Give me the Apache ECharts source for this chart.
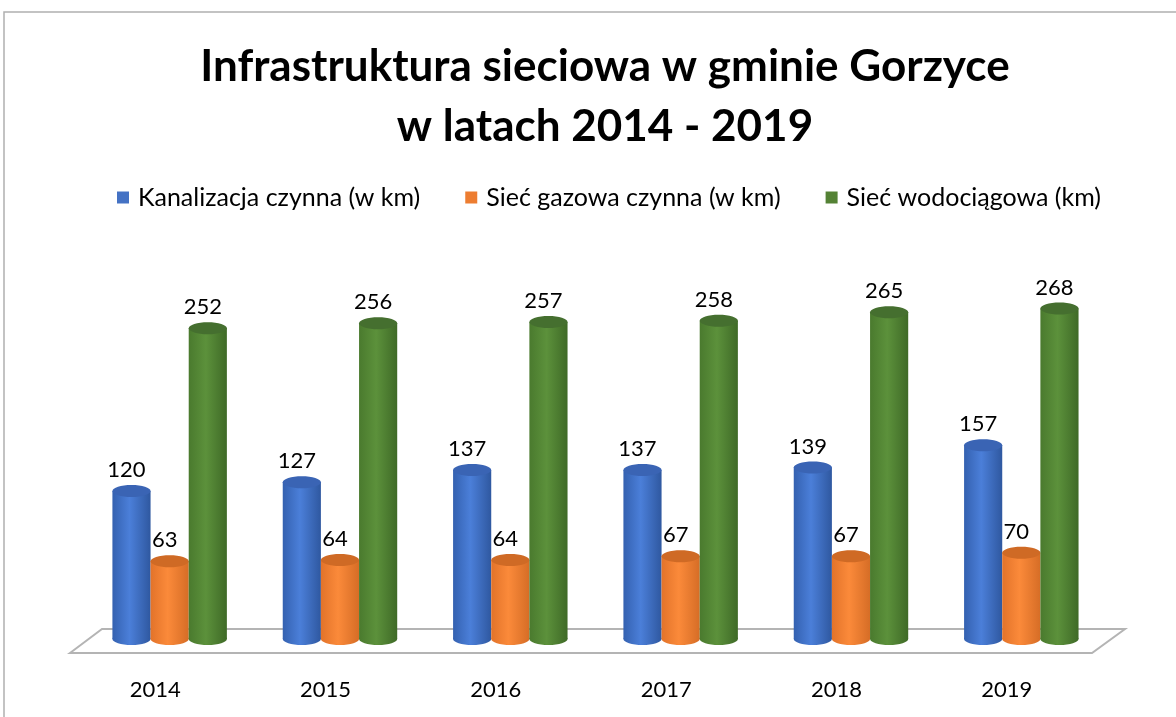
<!DOCTYPE html>
<html lang="pl">
<head>
  <meta charset="utf-8"/>
  <title>Infrastruktura sieciowa</title>
  <script src="https://cdn.jsdelivr.net/npm/echarts@6/dist/echarts.min.js"></script>
  <style>
    html, body { margin: 0; padding: 0; background: #fff; }
  </style>
</head>
<body>
<div id="main" style="width: 1176px;height: 717px"></div>
<script type="text/javascript">
  // dane z wykresu
  var lata = ['2014', '2015', '2016', '2017', '2018', '2019'];
  var kanalizacja = [120, 127, 137, 137, 139, 157];
  var gaz = [63, 64, 64, 67, 67, 70];
  var woda = [252, 256, 257, 258, 265, 268];

  var FONT = 'Lato';

  // kolory walcow: [lewa krawedz, srodek, prawa krawedz, gora]
  var kolory = [
    ['#3461b0', '#4b7fd9', '#2f58a0', '#3a64b4'],
    ['#e2732a', '#fb8a3a', '#d66d26', '#cf6a25'],
    ['#4a7a2e', '#5c913b', '#3f6a27', '#456f2f']
  ];

  function walec(idx) {
    return function (params, api) {
      var cat = api.value(0);
      var val = api.value(1);
      var base = api.coord([cat, 0]);
      var top = api.coord([cat, val]);
      var band = api.size([1, 0])[0];
      var w = band * 0.224;
      var cx = base[0] + band * 0.085 + (idx - 1) * w;
      var c = kolory[idx];
      var ry = 6;
      var grad = new echarts.graphic.LinearGradient(0, 0, 1, 0, [
        {offset: 0, color: c[0]}, {offset: 0.45, color: c[1]}, {offset: 1, color: c[2]}
      ]);
      return {
        type: 'group',
        children: [
          {type: 'ellipse', shape: {cx: cx, cy: base[1], rx: w / 2, ry: ry}, style: {fill: grad}},
          {type: 'rect', shape: {x: cx - w / 2, y: top[1], width: w, height: base[1] - top[1]}, style: {fill: grad}},
          {type: 'ellipse', shape: {cx: cx, cy: top[1], rx: w / 2, ry: ry}, style: {fill: c[3]}},
          {type: 'text', x: cx - 5, y: top[1] - 21, style: {
            text: String(val), fill: '#000', font: '22px ' + FONT, align: 'center', verticalAlign: 'middle'
          }}
        ]
      };
    };
  }

  function dane(arr) {
    return arr.map(function (v, i) { return [i, v]; });
  }

  var myChart = echarts.init(document.getElementById('main'));

  var option = {
    animation: false,
    title: {
      text: 'Infrastruktura sieciowa w gminie Gorzyce\nw latach 2014 - 2019',
      left: 600,
      top: 32,
      textAlign: 'center',
      textStyle: {fontFamily: FONT, fontWeight: 'bold', fontSize: 44, lineHeight: 60, color: '#000'}
    },
    legend: {
      top: 180,
      left: 112,
      itemWidth: 12,
      itemHeight: 12,
      itemGap: 45,
      icon: 'rect',
      textStyle: {fontFamily: FONT, fontSize: 25, color: '#000', padding: [0, 0, 0, 4]},
      data: [
        {name: 'Kanalizacja czynna (w km)', itemStyle: {color: '#4472C4'}},
        {name: 'Sieć gazowa czynna (w km)', itemStyle: {color: '#ED7D31'}},
        {name: 'Sieć wodociągowa (km)', itemStyle: {color: '#548235'}}
      ]
    },
    grid: {left: 70, right: 84, top: 269, bottom: 78},
    xAxis: {
      type: 'category',
      data: lata,
      axisLine: {show: false},
      axisTick: {show: false},
      axisLabel: {margin: 40, fontFamily: FONT, fontSize: 22, color: '#000'}
    },
    yAxis: {type: 'value', min: 0, max: 300, show: false},
    graphic: [{
      type: 'rect', z: -10, silent: true,
      shape: {x: 4, y: 12, width: 1300, height: 900},
      style: {fill: 'none', stroke: '#b0b0b0', lineWidth: 1.5}
    }],
    series: [
      {
        name: 'podloga', type: 'custom', silent: true, z: 1,
        data: [[0, 0]],
        renderItem: function (params, api) {
          var a = api.coord([0, 0]);
          var b = api.coord([lata.length - 1, 0]);
          var band = api.size([1, 0])[0];
          var xl = a[0] - band / 2, xr = b[0] + band / 2;
          return {
            type: 'polygon',
            shape: {points: [[xl, a[1] + 14], [xl + 32, a[1] - 10], [xr + 33, a[1] - 10], [xr, a[1] + 14]]},
            style: {fill: '#fff', stroke: '#b4b4b4', lineWidth: 2}
          };
        }
      },
      {name: 'Kanalizacja czynna (w km)', type: 'custom', z: 2, itemStyle: {color: '#4472C4'},
        data: dane(kanalizacja), renderItem: walec(0)},
      {name: 'Sieć gazowa czynna (w km)', type: 'custom', z: 2, itemStyle: {color: '#ED7D31'},
        data: dane(gaz), renderItem: walec(1)},
      {name: 'Sieć wodociągowa (km)', type: 'custom', z: 2, itemStyle: {color: '#548235'},
        data: dane(woda), renderItem: walec(2)}
    ]
  };

  myChart.setOption(option);
</script>
</body>
</html>
